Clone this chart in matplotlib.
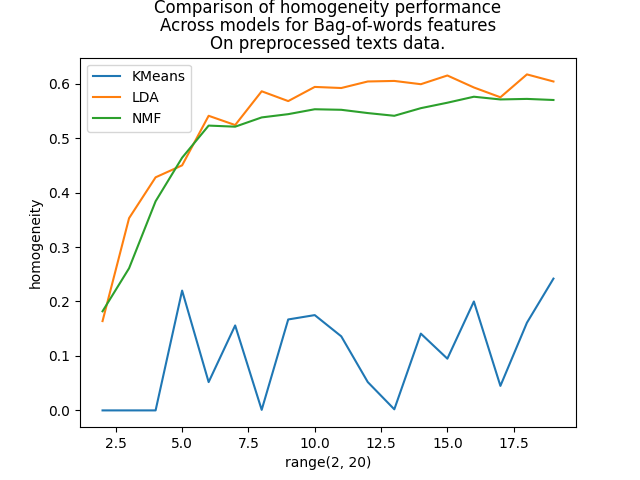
import matplotlib
matplotlib.use("Agg")
import matplotlib.pyplot as plt

n_topics = list(range(2, 20))

kmeans = [0.0, 0.0, 0.0, 0.220, 0.052, 0.156, 0.001, 0.167, 0.175,
          0.136, 0.052, 0.002, 0.141, 0.095, 0.200, 0.045, 0.161, 0.242]
lda = [0.164, 0.353, 0.428, 0.450, 0.541, 0.524, 0.586, 0.568, 0.594,
       0.592, 0.604, 0.605, 0.599, 0.615, 0.593, 0.575, 0.617, 0.604]
nmf = [0.182, 0.261, 0.384, 0.464, 0.523, 0.521, 0.538, 0.544, 0.553,
       0.552, 0.546, 0.541, 0.555, 0.565, 0.576, 0.571, 0.572, 0.570]


def main():
    fig, ax = plt.subplots(figsize=(6.4, 4.8), dpi=100)
    ax.plot(n_topics, kmeans, label="KMeans")
    ax.plot(n_topics, lda, label="LDA")
    ax.plot(n_topics, nmf, label="NMF")
    ax.set_title("Comparison of homogeneity performance\n"
                 "Across models for Bag-of-words features\n"
                 "On preprocessed texts data.", linespacing=1.0)
    ax.set_xlabel("range(2, 20)")
    ax.set_ylabel("homogeneity")
    ax.legend(loc="upper left")
    fig.savefig("out.png")


if __name__ == "__main__":
    main()
